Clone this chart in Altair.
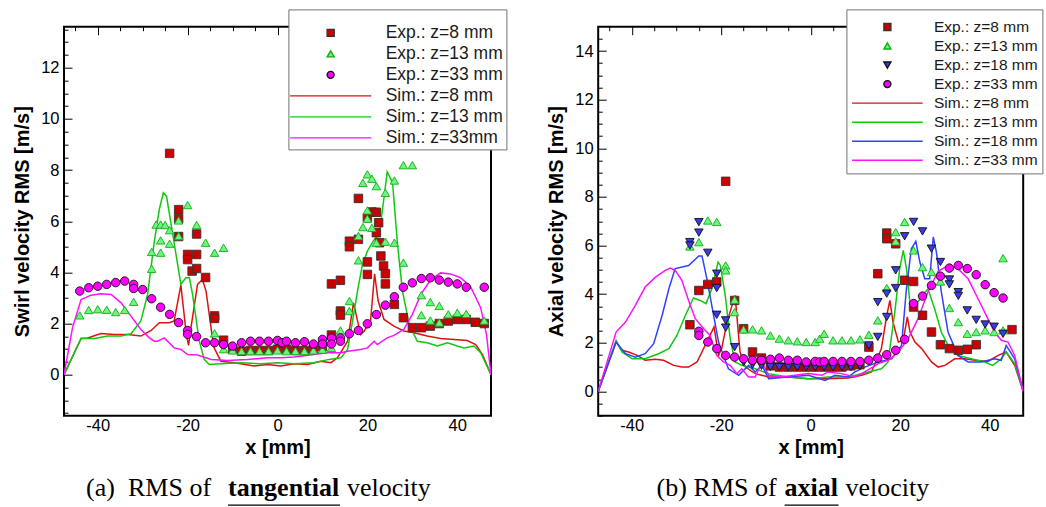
import altair as alt
import pandas as pd

# ---------------- Panel (a): RMS of tangential (swirl) velocity ----------------
A_EXP8 = [(-24, 8.65), (-22, 6.45), (-22, 6.1), (-22, 5.4), (-20, 4.7), (-20, 4.5), (-19, 4.05),
          (-18, 5.5), (-18, 4.7), (-18, 4.15), (-16, 3.8), (-14, 2.3), (-14, 2.2), (-12, 1.35),
          (-10, 1.0), (-8, 0.92), (-6, 0.95), (-4, 0.95), (-2, 0.95), (0, 1.0), (2, 1.0), (4, 0.95),
          (6, 0.95), (8, 1.0), (10, 1.1), (12, 3.55), (12, 1.55), (14, 3.69), (14, 2.49), (14, 2.33),
          (16, 5.22), (16, 5.0), (18, 6.89), (18, 5.29), (20, 6.13), (20, 4.41), (20, 3.92), (21, 6.36),
          (22, 6.35), (22, 5.55), (22.5, 5.94), (22.7, 5.16), (23, 4.64), (23.6, 4.25), (24, 3.95),
          (24, 3.55), (26, 2.75), (28, 2.23), (30, 1.84), (32, 1.84), (34, 1.9), (36, 2.0), (38, 2.1),
          (40, 2.16), (42, 2.16), (44, 2.05), (46, 2.0)]
A_EXP13 = [(-44, 2.32), (-42, 2.53), (-40, 2.56), (-38, 2.54), (-36, 2.45), (-34, 2.53), (-32, 2.85),
           (-28, 4.14), (-28, 4.8), (-27, 5.87), (-26, 5.87), (-26, 5.25), (-26, 4.77), (-25, 5.85),
           (-24, 5.65), (-24, 5.12), (-22, 6.03), (-22, 5.42), (-20, 6.63), (-18, 5.85), (-16, 5.16),
           (-14, 4.77), (-12, 4.96), (-14, 1.62), (-12, 1.0), (-10, 0.95), (-8, 0.92), (-6, 0.92),
           (-4, 0.92), (-2, 0.92), (0, 0.95), (2, 0.92), (4, 0.92), (6, 0.92), (8, 0.95), (10, 0.98),
           (12, 1.05), (14, 1.73), (16, 2.88), (16, 2.49), (18, 4.47), (18, 5.42), (19, 5.77), (19, 7.5),
           (20, 7.83), (20, 6.42), (20, 6.1), (21, 7.66), (21, 5.74), (22, 7.37), (22, 5.16), (24, 7.11),
           (24, 5.2), (26, 7.59), (26, 5.16), (28, 8.19), (28, 4.38), (30, 8.19), (32, 3.11), (32, 2.33),
           (34, 2.84), (34, 2.12), (36, 2.69), (36, 2.04), (38, 2.36), (40, 2.42), (42, 2.38), (46, 2.12)]
A_EXP33 = [(-44, 3.27), (-42, 3.4), (-40, 3.46), (-38, 3.53), (-36, 3.6), (-34, 3.66), (-32, 3.53),
           (-32, 3.37), (-30, 3.33), (-28, 2.97), (-26, 2.64), (-24, 2.36), (-22, 2.04), (-20, 1.73),
           (-20, 1.58), (-18, 1.49), (-16, 1.25), (-14, 1.25), (-12, 1.18), (-10, 1.12), (-8, 1.25),
           (-6, 1.31), (-4, 1.31), (-2, 1.31), (0, 1.34), (1, 1.25), (2, 1.31), (4, 1.25), (6, 1.29),
           (8, 1.2), (10, 1.38), (10, 1.2), (12, 1.44), (12, 1.2), (14, 1.44), (14, 1.31), (16, 1.6),
           (18, 1.73), (20, 1.99), (22, 2.35), (24, 2.72), (26, 3.05), (28, 3.42), (30, 3.59), (32, 3.76),
           (34, 3.79), (36, 3.7), (38, 3.62), (40, 3.55), (42, 3.42), (46, 3.42)]
A_SIM8 = [(-47.5, 0), (-43.7, 1.42), (-42.2, 1.44), (-39.3, 1.61), (-36.3, 1.57), (-33.3, 1.57),
          (-30.4, 1.51), (-28.1, 1.73), (-26.3, 2.03), (-24.1, 2.03), (-23, 2.1), (-21.5, 3.5),
          (-20.3, 1.6), (-19.8, 1.15), (-19.2, 1.9), (-17.8, 3.53), (-16.7, 3.72), (-15.9, 3.27),
          (-14.6, 1.6), (-14.1, 1.05), (-12.6, 0.53), (-9.6, 0.47), (-5.2, 0.34), (-2.2, 0.4),
          (0.7, 0.34), (3.7, 0.43), (6.7, 0.4), (9.6, 0.53), (11.9, 0.47), (13.3, 0.66), (15.6, 1.31),
          (16.9, 2.81), (18.5, 1.57), (19.3, 1.71), (20.7, 2.1), (21.6, 3.94), (22.4, 2.88),
          (23.7, 2.16), (25.9, 1.9), (28.1, 1.71), (30.4, 1.64), (33.3, 1.51), (36.3, 1.42),
          (39.3, 1.38), (42.2, 1.34), (44.1, 1.18), (45.6, 0.79), (47.5, 0)]
A_SIM13 = [(-47.5, 0), (-43.7, 1.42), (-40.7, 1.42), (-37.8, 1.51), (-34.8, 1.51), (-32.6, 1.6),
           (-30.4, 2.1), (-28.9, 3.14), (-27.4, 5.22), (-26.3, 6.46), (-25.4, 7.11), (-24.7, 6.98),
           (-23.3, 5.48), (-21.5, 3.53), (-20.4, 3.79), (-19.6, 3.79), (-18.9, 3.14), (-17.4, 1.31),
           (-16.3, 0.6), (-15.2, 0.4), (-12.6, 0.43), (-8.1, 0.47), (-3.7, 0.43), (0, 0.47),
           (3.7, 0.43), (8.1, 0.47), (11.5, 0.6), (14.1, 0.66), (15.6, 0.99), (16.7, 2.1), (17.8, 3.27),
           (18.9, 4.31), (20, 4.83), (21.5, 5.28), (22.6, 5.48), (23.6, 6.78), (24.4, 7.93), (25.6, 7.5),
           (26.7, 5.09), (27.8, 3.27), (29.3, 1.97), (31.1, 1.31), (33.3, 1.25), (35.6, 1.12),
           (37.8, 1.25), (40, 1.12), (41.5, 1.05), (43.7, 1.12), (45.2, 0.86), (47.5, 0)]
A_SIM33 = [(-47.5, 0), (-45.6, 1.84), (-43.7, 2.94), (-41.5, 3.11), (-39.3, 3.16), (-37, 3.14),
           (-34.8, 2.81), (-32.6, 2.29), (-30.4, 1.77), (-28.5, 1.44), (-27.4, 1.31), (-26.7, 1.31),
           (-25.2, 1.44), (-23, 1.05), (-21.5, 0.99), (-20, 0.79), (-17.8, 0.77), (-14.8, 0.6),
           (-11.1, 0.56), (-6.7, 0.6), (-2.2, 0.66), (0.7, 0.66), (3.7, 0.69), (8.1, 0.79), (11.1, 0.86),
           (14.1, 0.86), (15.6, 0.92), (18.5, 0.99), (20, 1.05), (21.5, 1.31), (22.2, 1.18), (24.4, 1.44),
           (25.9, 1.54), (28.1, 1.77), (30, 2.36), (31.9, 3.14), (34.1, 3.72), (36.3, 3.98), (38.5, 3.94),
           (40.7, 3.79), (42.9, 3.46), (45.2, 2.62), (46.5, 1.57), (47.5, 0)]

# ---------------- Panel (b): RMS of axial velocity ----------------
B_EXP8 = [(-27, 2.74), (-25, 4.15), (-23, 4.4), (-21, 4.5), (-19, 8.64), (-17, 3.74), (-15, 2.58),
          (-13, 1.62), (-11, 1.37), (-9, 1.05), (-7, 1.0), (-5, 1.0), (-3, 1.0), (-1, 1.0), (1, 1.0),
          (3, 1.0), (5, 1.0), (7, 1.0), (9, 1.05), (11, 1.1), (13, 1.82), (15, 4.84), (17, 6.51),
          (17, 6.28), (19, 6.07), (21, 4.57), (23, 4.52), (23, 3.47), (25, 3.13), (27, 2.44), (29, 1.92),
          (31, 1.76), (33, 1.69), (35, 1.73), (37, 1.92), (45, 2.54)]
B_EXP13 = [(-27, 5.96), (-25, 6.14), (-23, 7.03), (-21, 6.97), (-19, 5.18), (-19, 4.98), (-17, 3.26),
           (-17, 3.77), (-15, 2.55), (-13, 2.55), (-11, 2.51), (-9, 2.3), (-7, 2.17), (-5, 2.1),
           (-3, 2.06), (-1, 2.03), (1, 2.03), (2, 2.17), (3, 2.37), (5, 2.1), (7, 2.1), (9, 2.1),
           (11, 2.14), (13, 2.33), (15, 2.92), (17, 4.25), (19, 6.55), (19, 6.17), (21, 6.97), (23, 5.8),
           (25, 5.11), (27, 4.91), (29, 4.52), (31, 3.43), (33, 2.85), (35, 2.37), (37, 2.44), (39, 2.51),
           (41, 2.44), (43, 2.51), (43, 5.48)]
B_EXP18 = [(-27, 6.14), (-27, 6.0), (-25, 6.96), (-25, 6.53), (-23, 5.7), (-21, 4.84), (-21, 4.25),
           (-21, 3.15), (-19, 2.92), (-19, 2.62), (-17, 1.82), (-15, 1.2), (-13, 1.1), (-11, 1.05),
           (-9, 1.0), (-7, 1.0), (-5, 1.0), (-3, 1.0), (-1, 1.0), (1, 1.0), (3, 1.0), (5, 1.0), (7, 1.0),
           (9, 1.0), (11, 1.05), (13, 1.89), (15, 2.24), (15, 3.67), (17, 3.06), (17, 4.02), (19, 4.25),
           (19, 4.98), (21, 6.38), (23, 6.97), (25, 6.58), (27, 5.87), (29, 5.32), (31, 4.6), (31, 4.4),
           (33, 4.08), (33, 3.93), (35, 3.33), (37, 2.94), (39, 2.75), (41, 2.66), (43, 2.37)]
B_EXP33 = [(-25, 2.47), (-25, 2.3), (-23, 2.03), (-21, 1.76), (-19, 1.48), (-17, 1.41), (-15, 1.34),
           (-13, 1.28), (-11, 1.28), (-9, 1.32), (-7, 1.37), (-5, 1.28), (-3, 1.28), (-1, 1.21), (1, 1.23),
           (2, 1.21), (3, 1.23), (5, 1.23), (7, 1.23), (9, 1.23), (11, 1.23), (13, 1.28), (15, 1.37),
           (17, 1.51), (19, 1.69), (21, 2.14), (23, 3.61), (25, 3.92), (27, 4.36), (29, 4.74), (31, 5.07),
           (33, 5.18), (35, 5.05), (37, 4.8), (39, 4.39), (41, 4.06), (43, 3.84)]
B_SIM8 = [(-47.5, 0), (-43.5, 2.03), (-42.2, 1.69), (-40.7, 1.62), (-38.8, 1.48), (-37, 1.28),
          (-34.7, 1.32), (-32.9, 1.28), (-30.6, 1.07), (-28.8, 1.0), (-27.3, 1.0), (-25.4, 1.21),
          (-23.6, 1.89), (-21.6, 2.65), (-20.6, 1.48), (-19.9, 1.76), (-18.7, 2.85), (-16.9, 3.95),
          (-15.8, 1.62), (-14.6, 1.0), (-12.4, 0.73), (-9.4, 0.59), (-5, 0.59), (-0.5, 0.52), (3.9, 0.52),
          (8.4, 0.55), (11.4, 0.66), (13.6, 0.8), (15.8, 1.76), (17, 3.13), (17.7, 3.74), (18.4, 2.85),
          (19.6, 2.03), (20.7, 2.1), (21.6, 3.06), (22.2, 2.44), (23.3, 2.03), (24.8, 1.76), (27, 1.21),
          (28.5, 1.0), (30, 1.07), (32.2, 1.34), (34.4, 1.34), (36.7, 1.28), (39.6, 1.23), (41.9, 1.48),
          (43.7, 1.62), (45.6, 1.07), (47.5, 0)]
B_SIM13 = [(-47.5, 0), (-43.5, 2.1), (-42.2, 1.62), (-39.9, 1.34), (-37, 1.34), (-34, 1.55),
           (-31.7, 1.76), (-29.9, 2.3), (-28, 3.13), (-26.2, 3.84), (-24.7, 3.74), (-23.4, 3.61),
           (-22.1, 4.22), (-20.7, 5.32), (-20.2, 5.18), (-19.1, 3.95), (-18, 2.17), (-16.9, 1.21),
           (-15.4, 1.07), (-12.4, 0.93), (-9.4, 0.73), (-5, 0.59), (-0.5, 0.52), (3.9, 0.59), (8.4, 0.59),
           (12.9, 0.8), (15.8, 0.93), (17.3, 1.21), (18.8, 3.26), (19.9, 5.05), (20.7, 5.8), (21.4, 5.05),
           (22.2, 3.61), (23.3, 3.54), (24.8, 3.88), (26.2, 4.22), (27.7, 3.4), (29.2, 2.44), (30.7, 1.89),
           (32.9, 1.48), (35.9, 1.34), (38.9, 1.21), (40.7, 1.07), (42.6, 1.34), (43.7, 1.62),
           (45.6, 1.14), (47.5, 0)]
B_SIM18 = [(-47.5, 0), (-43.5, 2.03), (-41.4, 1.55), (-39.2, 1.41), (-37, 1.55), (-35.1, 1.96),
           (-33.2, 3.13), (-31.7, 4.22), (-30.3, 5.05), (-27.3, 5.18), (-25, 5.57), (-24.3, 5.57),
           (-23.2, 4.63), (-21.7, 3.13), (-20.6, 2.03), (-18.4, 0.93), (-16.1, 0.66), (-13.9, 1.07),
           (-12.4, 0.8), (-10.9, 1.07), (-9.4, 0.52), (-5, 0.59), (-0.5, 0.66), (3.2, 0.45), (5.4, 0.66),
           (8.4, 0.59), (9.9, 0.8), (12.1, 1.0), (15.1, 1.21), (18.1, 1.34), (20.3, 1.89), (21.4, 4.22),
           (22.5, 5.87), (23.5, 6.17), (24.4, 5.32), (25.5, 4.63), (26.6, 4.63), (27.4, 6.35),
           (28.1, 5.73), (29.2, 4.09), (30.7, 2.44), (32.9, 1.48), (35.2, 1.21), (38.1, 1.21),
           (41.1, 1.34), (42.6, 1.28), (43.7, 1.89), (45.6, 1.34), (47.5, 0)]
B_SIM33 = [(-47.5, 0), (-43.5, 2.44), (-41.4, 2.85), (-39.2, 3.54), (-37, 4.29), (-34.7, 4.7),
           (-32.5, 4.98), (-31.4, 5.07), (-30.3, 4.98), (-28.8, 4.57), (-27.3, 3.74), (-25.8, 2.99),
           (-23.9, 2.58), (-22.5, 2.3), (-21, 1.48), (-19.5, 1.21), (-18, 1.07), (-16.5, 0.73),
           (-15.4, 0.93), (-13.9, 0.59), (-12.4, 0.59), (-10.9, 1.21), (-9.4, 0.66), (-6.5, 0.59),
           (-3.5, 0.66), (-0.5, 0.73), (2.5, 0.66), (3.9, 0.8), (6.9, 0.73), (9.9, 0.59), (12.1, 0.8),
           (15.1, 1.14), (17.3, 1.28), (19.6, 1.62), (21.8, 2.17), (24, 2.99), (26.2, 4.09), (28.5, 4.94),
           (30.7, 5.18), (32.9, 5.05), (35.2, 4.63), (37.4, 3.81), (39.6, 2.99), (41.1, 2.44), (42.6, 2.1),
           (44.1, 2.03), (45.6, 1.48), (47.5, 0)]

A_EXP_NAMES = ["Exp.: z=8 mm", "Exp.: z=13 mm", "Exp.: z=33 mm"]
A_SIM_NAMES = ["Sim.: z=8 mm", "Sim.: z=13 mm", "Sim.: z=33mm"]
B_EXP_NAMES = ["Exp.: z=8 mm", "Exp.: z=13 mm", "Exp.: z=18 mm", "Exp.: z=33 mm"]
B_SIM_NAMES = ["Sim.: z=8 mm", "Sim.: z=13 mm", "Sim.: z=18 mm", "Sim.: z=33 mm"]

C_RED_F, C_GRN_F, C_BLU_F, C_MAG_F = "#cc0000", "#6cf585", "#3a3ae6", "#ff00ff"
C_RED_L, C_GRN_L, C_BLU_L, C_MAG_L = "#dd1111", "#11c811", "#3040ff", "#ff10ff"

SANS = "Liberation Sans"
SERIF = "Liberation Serif"


def long_df(names, series):
    rows = []
    for name, pairs in zip(names, series):
        for x, y in pairs:
            rows.append({"x": x, "y": y, "series": name})
    return pd.DataFrame(rows)


def make_panel(exp_names, exp_series, sim_names, sim_series, fills, estrokes, shapes, lcolors,
               line_path, ydom, yvals, ytitle, width, leg, captions, underline):
    domain = exp_names + sim_names
    fill_scale = alt.Scale(domain=domain, range=fills + ["transparent"] * len(sim_names))
    stroke_scale = alt.Scale(domain=domain, range=estrokes + lcolors)
    shape_scale = alt.Scale(domain=domain, range=shapes + [line_path] * len(sim_names))
    legend = alt.Legend(
        title=" ", titleFontSize=1, titlePadding=leg["tpad"], orient="none",
        legendX=leg["x"], legendY=leg["y"], labelFont=SANS, labelFontSize=leg["fs"],
        labelColor="#1a1a1a", symbolSize=49, symbolStrokeWidth=1.4, symbolOffset=leg["so"],
        labelOffset=leg["lo"], rowPadding=leg["rp"], padding=leg["pad"],
        strokeColor="#707070", fillColor="white", labelLimit=0,
    )
    xaxis = alt.Axis(
        values=list(range(-45, 50, 5)),
        labelExpr="datum.value % 20 === 0 ? '' + datum.value : ''",
        title="x [mm]", ticks=False, tickSize=0, domain=False, grid=True,
        gridColor="black", gridOpacity=1, gridWidth=1,
        gridDash={"condition": {"test": "datum.value % 20 === 0", "value": [8, 5000]},
                  "value": [4, 5000]},
        labelFont=SANS, labelFontSize=16.5, labelColor="black", labelPadding=2,
        titleFont=SANS, titleFontSize=20, titleFontWeight="bold", titleColor="black",
        titlePadding=3, labelOverlap=False, labelFlush=False,
    )
    yaxis = alt.Axis(
        values=yvals,
        labelExpr="datum.value % 2 === 0 ? '' + datum.value : ''",
        title=ytitle, ticks=False, tickSize=0, domain=False, grid=True,
        gridColor="black", gridOpacity=1, gridWidth=1,
        gridDash={"condition": {"test": "datum.value % 2 === 0", "value": [8, 5000]},
                  "value": [4, 5000]},
        labelFont=SANS, labelFontSize=16.5, labelColor="black", labelPadding=5,
        titleFont=SANS, titleFontSize=20, titleFontWeight="bold", titleColor="black",
        titlePadding=8, labelOverlap=False, labelFlush=False,
    )
    xenc = alt.X("x:Q", scale=alt.Scale(domain=[-47.5, 47.5], nice=False, zero=False), axis=xaxis)
    yenc = alt.Y("y:Q", scale=alt.Scale(domain=ydom, nice=False, zero=False), axis=yaxis)

    lines = alt.Chart(long_df(sim_names, sim_series)).mark_line(strokeWidth=1.5, clip=True).encode(
        x=xenc, y=yenc,
        stroke=alt.Stroke("series:N", scale=stroke_scale, legend=legend),
    )
    points = alt.Chart(long_df(exp_names, exp_series)).mark_point(
        filled=True, size=72, strokeWidth=0.9, opacity=1, clip=True
    ).encode(
        x=xenc, y=yenc,
        fill=alt.Fill("series:N", scale=fill_scale, legend=legend),
        stroke=alt.Stroke("series:N", scale=stroke_scale, legend=legend),
        shape=alt.Shape("series:N", scale=shape_scale, legend=legend),
    )
    layers = [lines, points]
    for text, xpos, weight in captions:
        layers.append(
            alt.Chart(alt.Data(values=[{}])).mark_text(
                font=SERIF, fontSize=26, fontWeight=weight, align="left", baseline="alphabetic",
                color="black",
            ).encode(x=alt.value(xpos), y=alt.value(469.5), text=alt.value(text))
        )
    layers.append(
        alt.Chart(alt.Data(values=[{}])).mark_rule(color="black", strokeWidth=1.3).encode(
            x=alt.value(underline[0]), x2=alt.value(underline[1]), y=alt.value(478.5)
        )
    )
    return alt.layer(*layers).properties(width=width, height=389)


left = make_panel(
    A_EXP_NAMES, [A_EXP8, A_EXP13, A_EXP33], A_SIM_NAMES, [A_SIM8, A_SIM13, A_SIM33],
    [C_RED_F, C_GRN_F, C_MAG_F], ["#333333", "#10b010", "#111111"],
    ["square", "triangle-up", "circle"], [C_RED_L, C_GRN_L, C_MAG_L],
    "M-11.6,0L11.6,0", [-1.6, 13.6], [v / 2 for v in range(-3, 28)],
    "Swirl velocity RMS [m/s]", 427,
    {"x": 224.4, "y": -17.3, "fs": 17.5, "so": 30.5, "lo": 46.25, "rp": 2.0, "pad": 3, "tpad": 10.7},
    [("(a)", 22, "normal"), ("RMS of", 64, "normal"), ("tangential", 164, "bold"),
     ("velocity", 283, "normal")],
    (164, 276),
)
right = make_panel(
    B_EXP_NAMES, [B_EXP8, B_EXP13, B_EXP18, B_EXP33], B_SIM_NAMES, [B_SIM8, B_SIM13, B_SIM18, B_SIM33],
    [C_RED_F, C_GRN_F, C_BLU_F, C_MAG_F], ["#333333", "#10b010", "#111111", "#111111"],
    ["square", "triangle-up", "triangle-down", "circle"], [C_RED_L, C_GRN_L, C_BLU_L, C_MAG_L],
    "M-10.1,0L10.1,0", [-1, 15], [v / 2 for v in range(-2, 30)],
    "Axial velocity RMS [m/s]", 425,
    {"x": 248.2, "y": -17.3, "fs": 15.5, "so": 29.55, "lo": 38.8, "rp": 2.05, "pad": 3.7, "tpad": 5.1},
    [("(b)", 58.4, "normal"), ("RMS of", 95.4, "normal"), ("axial", 186.4, "bold"),
     ("velocity", 247.4, "normal")],
    (186.4, 240.4),
)

chart = alt.hconcat(left, right, spacing=107.2, bounds="flush").resolve_scale(
    fill="independent", stroke="independent", shape="independent"
).resolve_legend(
    fill="independent", stroke="independent", shape="independent"
).properties(
    padding={"left": 11, "top": 7.7, "right": 0, "bottom": 0},
    background="white",
).configure_view(stroke="black", strokeWidth=2)

chart.save("out.html", embed_options={"renderer": "svg", "actions": False})
